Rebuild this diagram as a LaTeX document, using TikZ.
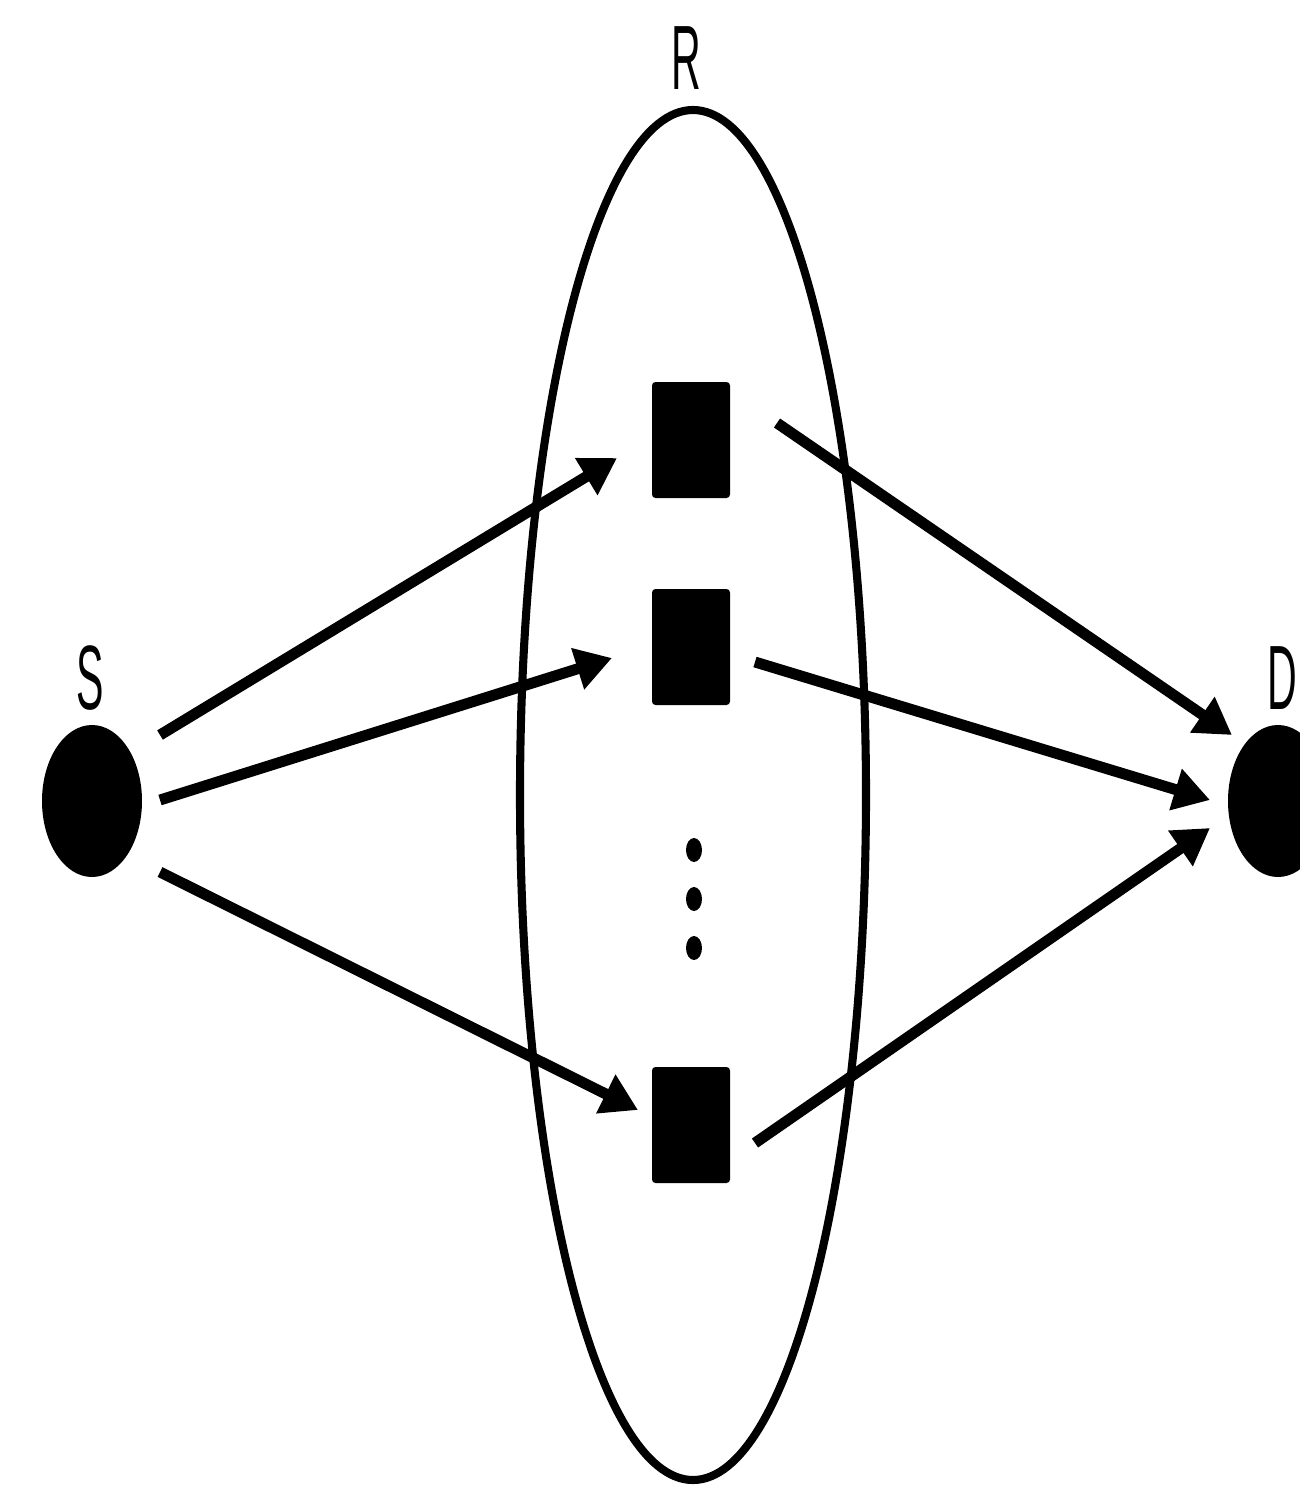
\documentclass[tikz,border=0pt]{standalone}
\usepackage{fontspec}
\setmainfont{Liberation Sans}
\usepackage{tikz}
\usetikzlibrary{arrows.meta,positioning,calc,shapes.geometric}

\begin{document}
\begin{tikzpicture}[font=\fontsize{26}{28}\selectfont,
  term/.style={draw=none,fill=black,ellipse,minimum width=1.0cm,minimum height=1.52cm,
               inner sep=0pt},
  relay/.style={fill=black,rounded corners=1pt,minimum width=0.78cm,minimum height=1.16cm,
                inner sep=0pt},
  lbl/.style={inner sep=0pt},
  dotn/.style={fill=black,ellipse,minimum width=0.16cm,minimum height=0.24cm,inner sep=0pt},
  w/.style={-{Triangle[length=3.6mm,width=4.1mm]},line width=3.1pt}]

\useasboundingbox (0,0) rectangle (13,-14.86);

% ---------------- relay set -------------------------------------------------
\draw[line width=2.3pt] (6.93,-7.95) ellipse (1.73cm and 6.85cm);
\node[lbl] (rlab) at (6.86,-0.58) {\scalebox{0.45}[1]{R}};

\node[relay] (r1) at (6.91,-4.40) {};
\node[relay] (r2) at (6.91,-6.47) {};
\node[relay] (r3) at (6.91,-11.25) {};
\foreach \y/\n in {-8.50/d1, -8.99/d2, -9.48/d3}
  \node[dotn] (\n) at (6.94,\y) {};

% ---------------- source and destination ------------------------------------
\node[term] (src) at (0.92,-8.01) {};
\node[lbl] (slab) at (0.90,-6.78) {\scalebox{0.45}[1]{S}};
\node[term] (dst) at (12.78,-8.01) {};
\node[lbl] (dlab) at (12.82,-6.78) {\scalebox{0.45}[1]{D}};

% ---------------- first hop -------------------------------------------------
\draw[w] ([shift={(0.68,0.66)}]src.center)  -- ([shift={(-0.74,-0.18)}]r1.center);
\draw[w] ([shift={(0.68,0.01)}]src.center)  -- ([shift={(-0.79,-0.11)}]r2.center);
\draw[w] ([shift={(0.68,-0.71)}]src.center) -- ([shift={(-0.53,0.15)}]r3.center);

% ---------------- second hop ------------------------------------------------
\draw[w] ([shift={(0.86,0.17)}]r1.center)  -- ([shift={(-0.46,0.66)}]dst.center);
\draw[w] ([shift={(0.64,-0.15)}]r2.center) -- ([shift={(-0.68,0.01)}]dst.center);
\draw[w] ([shift={(0.64,-0.18)}]r3.center) -- ([shift={(-0.68,-0.27)}]dst.center);

\end{tikzpicture}
\end{document}
